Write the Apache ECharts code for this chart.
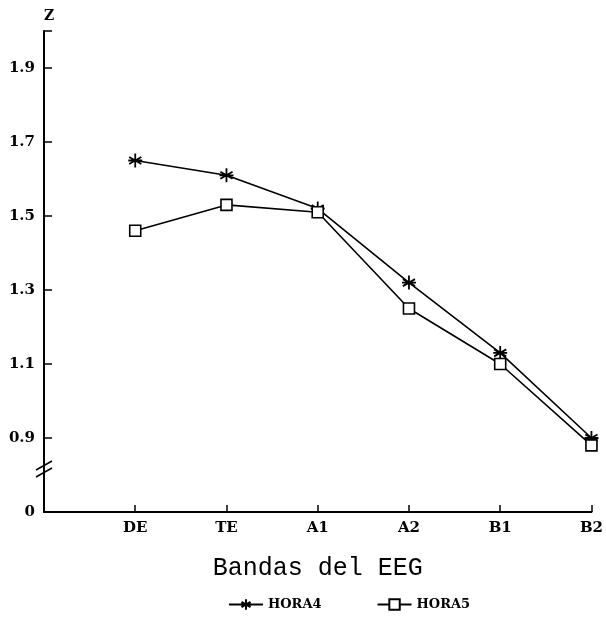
<!DOCTYPE html>
<html>
<head>
<meta charset="utf-8">
<script src="https://cdn.jsdelivr.net/npm/echarts@6/dist/echarts.min.js"></script>
<style>
  html, body { margin: 0; padding: 0; background: #fff; }
  #main { width: 606px; height: 633px; }
</style>
</head>
<body>
<div id="main"></div>
<script>
// leading blank slot keeps DE one step away from the y axis
const categories = ['', 'DE', 'TE', 'A1', 'A2', 'B1', 'B2'];
const hora4 = [null, 1.65, 1.61, 1.52, 1.32, 1.13, 0.90];
const hora5 = [null, 1.46, 1.53, 1.51, 1.25, 1.10, 0.88];
const yTickLabels = { '0.7': '0', '0.9': '0.9', '1.1': '1.1', '1.3': '1.3', '1.5': '1.5', '1.7': '1.7', '1.9': '1.9' };

const font = 'DejaVu Serif';
const asterisk = 'path://M0,-6L0,6M-5.2,-3L5.2,3M-5.2,3L5.2,-3M-6,0L6,0';

const chart = echarts.init(document.getElementById('main'));
chart.setOption({
  backgroundColor: '#fff',
  animation: false,
  grid: { left: 44, right: 13, top: 31, bottom: 121 },
  xAxis: {
    type: 'category',
    data: categories,
    boundaryGap: false,
    name: 'Bandas del EEG',
    nameLocation: 'middle',
    nameGap: 44,
    nameTextStyle: { fontFamily: 'Liberation Mono', fontSize: 25, color: '#000' },
    axisLine: { lineStyle: { color: '#000', width: 2 } },
    axisTick: { inside: true, length: 7, lineStyle: { color: '#000', width: 1.5 },
      interval: (i) => i > 0 },
    axisLabel: { fontFamily: font, fontWeight: 'bold', fontSize: 15, color: '#000', margin: 9,
      interval: 0 },
    splitLine: { show: false }
  },
  yAxis: {
    type: 'value',
    min: 0.7,
    max: 2.0,
    interval: 0.2,
    name: 'Z',
    nameLocation: 'end',
    nameGap: 8,
    nameTextStyle: { fontFamily: font, fontWeight: 'bold', fontSize: 14, color: '#000', padding: [0, 0, 0, 10] },
    axisLine: { show: true, lineStyle: { color: '#000', width: 2 } },
    axisTick: { show: true, inside: true, length: 8, lineStyle: { color: '#000', width: 1.5 } },
    axisLabel: { fontFamily: font, fontWeight: 'bold', fontSize: 15, color: '#000', margin: 9,
      formatter: (v) => yTickLabels[(Math.round(v * 10) / 10).toFixed(1)] || '' },
    splitLine: { show: false }
  },
  legend: {
    bottom: 17,
    left: 223,
    itemGap: 55,
    itemWidth: 34,
    itemHeight: 13,
    textStyle: { fontFamily: font, fontWeight: 'bold', fontSize: 13, color: '#000' },
    data: ['HORA4', 'HORA5']
  },
  series: [
    {
      name: 'HORA4',
      type: 'line',
      data: hora4,
      symbol: asterisk,
      symbolSize: 14,
      lineStyle: { color: '#000', width: 1.6 },
      itemStyle: { color: '#000', borderColor: '#000', borderWidth: 1.8 }
    },
    {
      name: 'HORA5',
      type: 'line',
      data: hora5,
      symbol: 'rect',
      symbolSize: 11,
      lineStyle: { color: '#000', width: 1.6 },
      itemStyle: { color: '#fff', borderColor: '#000', borderWidth: 1.6 }
    }
  ],
  graphic: [
    { type: 'line', shape: { x1: 36, y1: 470, x2: 52, y2: 461 }, style: { stroke: '#000', lineWidth: 1.5 } },
    { type: 'line', shape: { x1: 36, y1: 477, x2: 52, y2: 468 }, style: { stroke: '#000', lineWidth: 1.5 } }
  ]
});
</script>
</body>
</html>
